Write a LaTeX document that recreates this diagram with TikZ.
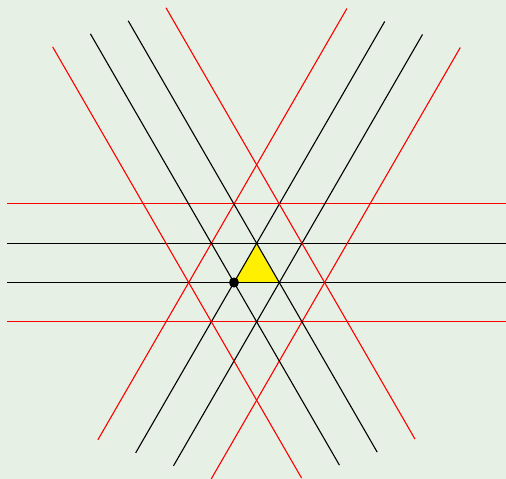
\documentclass[tikz,border=0pt]{standalone}
\definecolor{bg}{HTML}{E6F0E4}
\definecolor{redline}{HTML}{FF0000}
\definecolor{yel}{HTML}{FFF000}
\begin{document}
\begin{tikzpicture}[x=1pt,y=-1pt,
  blk/.style={black,line width=1.1pt},
  rd/.style={redline,line width=1.1pt}]
\fill[bg] (0,0) rectangle (506,479);
\useasboundingbox (0,0) rectangle (506,479);
\clip (0,0) rectangle (506,479);
% triangle
\coordinate (A) at (234,282.5);
\coordinate (B) at (279.3,282.5);
\coordinate (C) at (256.65,243.5);
\fill[yel] (A) -- (B) -- (C) -- cycle;
% horizontal lines
\coordinate (h1a) at (7,203.5);   \coordinate (h1b) at (506,203.5);
\coordinate (h2a) at (7,243.5);   \coordinate (h2b) at (506,243.5);
\coordinate (h3a) at (7,282.5);   \coordinate (h3b) at (506,282.5);
\coordinate (h4a) at (7,321.5);   \coordinate (h4b) at (506,321.5);
\draw[rd]  (h1a) -- (h1b);
\draw[blk] (h2a) -- (h2b);
\draw[blk] (h3a) -- (h3b);
\draw[rd]  (h4a) -- (h4b);
% rising lines
\coordinate (p1a) at (97.9,439.8);  \coordinate (p1b) at (346.9,8.5);
\coordinate (p2a) at (135.7,452.8); \coordinate (p2b) at (384.7,21.5);
\coordinate (p3a) at (173.5,465.8); \coordinate (p3b) at (422.5,34.5);
\coordinate (p4a) at (211.3,478.8); \coordinate (p4b) at (460.3,47.5);
\draw[rd]  (p1a) -- (p1b);
\draw[blk] (p2a) -- (p2b);
\draw[blk] (p3a) -- (p3b);
\draw[rd]  (p4a) -- (p4b);
% falling lines
\coordinate (q1a) at (52.6,46.8);   \coordinate (q1b) at (301.6,478.1);
\coordinate (q2a) at (90.4,33.8);   \coordinate (q2b) at (339.4,465.1);
\coordinate (q3a) at (128.2,20.8);  \coordinate (q3b) at (377.2,452.1);
\coordinate (q4a) at (166.0,7.8);   \coordinate (q4b) at (415.0,439.1);
\draw[rd]  (q1a) -- (q1b);
\draw[blk] (q2a) -- (q2b);
\draw[blk] (q3a) -- (q3b);
\draw[rd]  (q4a) -- (q4b);
% dot
\fill[black] (A) circle (5);
\end{tikzpicture}
\end{document}
